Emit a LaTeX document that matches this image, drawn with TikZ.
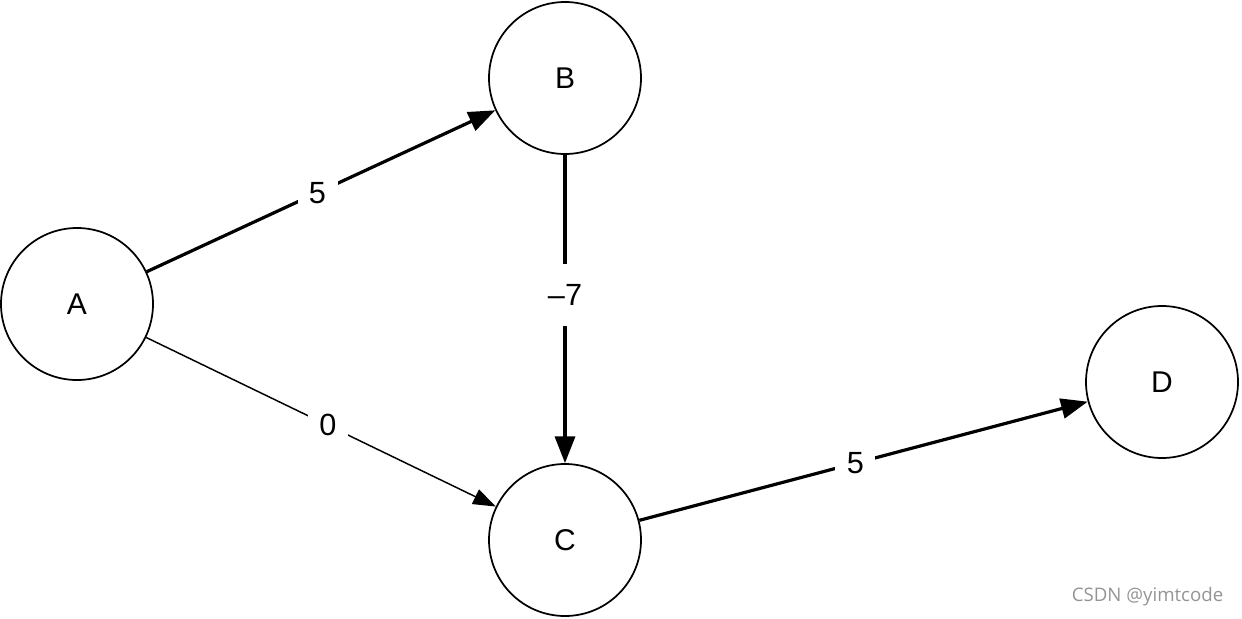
\documentclass[tikz,border=0pt]{standalone}
\usepackage{fontspec}
\setmainfont{Liberation Sans}
\newfontfamily\wmfont{Open Sans}
\usetikzlibrary{arrows.meta}
\begin{document}
\begin{tikzpicture}[x=0.75pt,y=-0.75pt,
  vert/.style={circle,draw=black,line width=1.3pt,minimum size=114pt,inner sep=0pt,font=\fontsize{22.5}{24}\selectfont},
  thickedge/.style={line width=2.4pt,-{Triangle[length=20pt,width=15pt]}},
  thinedge/.style={line width=1.1pt,-{Triangle[length=17pt,width=12pt]}},
  wlabel/.style={fill=white,inner sep=0pt,minimum width=30pt,minimum height=47pt,font=\fontsize{23}{24}\selectfont}]
\useasboundingbox (0,0) rectangle (1242,618);
\node[vert] (A) at (77,304) {A};
\node[vert] (B) at (565,78) {B};
\node[vert] (C) at (565,540) {C};
\node[vert] (D) at (1162,382) {D};
\draw[thickedge] (A) -- node[wlabel,pos=0.49] {5} (B);
\draw[thinedge] (A) -- node[wlabel,pos=0.52] {0} (C);
\draw[thickedge] (B) -- node[wlabel,pos=0.455] {–7} (C);
\draw[thickedge] (C) -- node[wlabel,pos=0.482] {5} (D);
\node[font=\wmfont\fontsize{14}{16}\selectfont,text=black!42,anchor=east] (wm) at (1228,597) {CSDN @yimtcode};
\end{tikzpicture}
\end{document}
